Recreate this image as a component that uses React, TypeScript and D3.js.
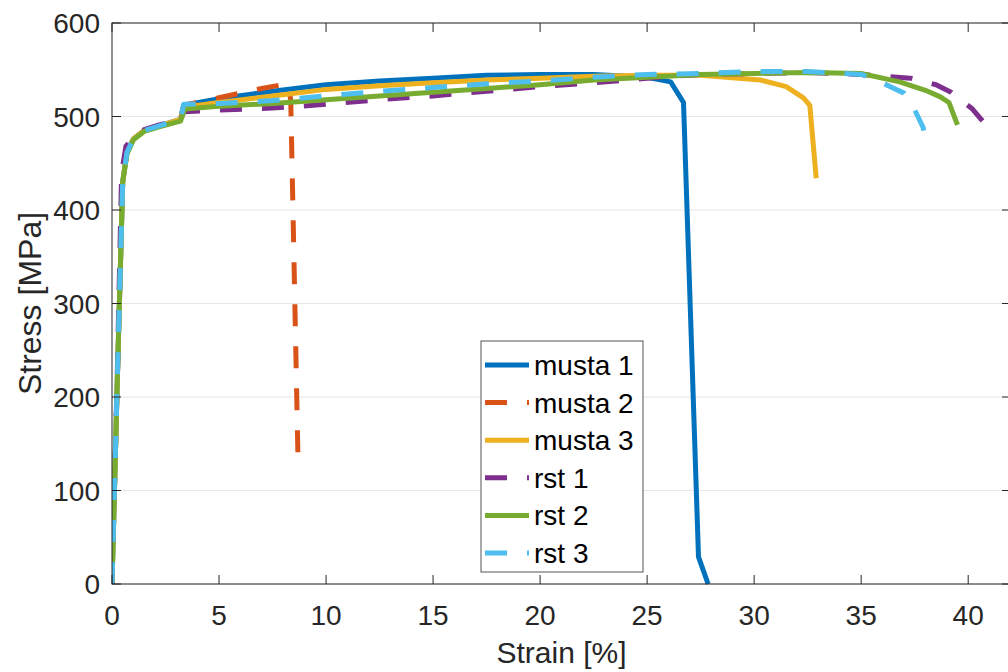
import React from 'react';
import * as d3 from 'd3';

// strain [%] / stress [MPa]
const musta1Strain = [0, 0.25, 0.5, 0.7, 1.0, 1.5, 2.2, 3.2, 3.35, 5, 7.5, 10, 12.5, 15, 17.5, 20, 22.5, 25, 26.1, 26.7, 27.4, 27.85];
const musta1Stress = [0, 220, 430, 462, 476, 485, 490, 497, 512, 519, 527, 534, 538, 541, 544, 545, 545, 542, 537, 515, 29, 0];

const musta2Strain = [0, 0.25, 0.5, 0.7, 1.0, 1.5, 2.2, 3.2, 3.35, 5, 7, 8.2, 8.35, 8.7];
const musta2Stress = [0, 220, 430, 462, 476, 485, 490, 497, 512, 520, 530, 535, 518, 122];

const musta3Strain = [0, 0.25, 0.5, 0.7, 1.0, 1.5, 2.2, 3.2, 3.35, 5, 7.5, 10, 12.5, 15, 17.5, 20, 22.5, 25, 27.5, 30.3, 31.5, 32.3, 32.6, 32.9];
const musta3Stress = [0, 220, 430, 462, 476, 485, 490, 497, 510, 515, 522, 529, 533, 536, 539, 541, 543, 544, 544, 539, 532, 520, 512, 434];

const rst1Strain = [0, 0.25, 0.45, 0.65, 1.0, 1.5, 2.2, 3.2, 3.35, 5, 7.5, 10, 12.5, 15, 17.5, 20, 22.5, 25, 27.5, 30, 32.5, 35, 37.3, 38.5, 39.2, 40.2, 40.9];
const rst1Stress = [0, 230, 440, 468, 478, 486, 491, 496, 505, 507, 509, 513, 518, 522, 527, 532, 536, 541, 545, 546, 547, 545, 541, 534, 526, 508, 489];

const rst2Strain = [0, 0.25, 0.5, 0.7, 1.0, 1.5, 2.2, 3.2, 3.4, 5, 7.5, 10, 12.5, 15, 17.5, 20, 22.5, 25, 27.5, 30, 32.5, 35, 36.8, 38, 38.7, 39.1, 39.5];
const rst2Stress = [0, 220, 430, 460, 475, 484, 489, 495, 508, 511, 514, 518, 522, 526, 530, 534, 539, 542, 545, 546, 547, 546, 537, 528, 521, 515, 491];

const rst3Strain = [0, 0.25, 0.5, 0.7, 1.0, 1.5, 2.2, 3.2, 3.35, 5, 7.5, 10, 12.5, 15, 17.5, 20, 22.5, 25, 27.5, 30, 32.5, 35, 35.6, 37, 37.4, 37.9, 38];
const rst3Stress = [0, 220, 430, 462, 476, 485, 490, 497, 513, 514, 517, 522, 527, 531, 535, 538, 542, 545, 546, 548, 548, 545, 540, 525, 512, 488, 466];

const seriesNames = ['musta 1', 'musta 2', 'musta 3', 'rst 1', 'rst 2', 'rst 3'];
const seriesColors = ['#0072BD', '#D95319', '#EDB120', '#7E2F8E', '#77AC30', '#4DBEEE'];
const seriesDashed = [false, true, false, true, false, true];

const xTicks = [0, 5, 10, 15, 20, 25, 30, 35, 40];
const yTicks = [0, 100, 200, 300, 400, 500, 600];

const strains = [musta1Strain, musta2Strain, musta3Strain, rst1Strain, rst2Strain, rst3Strain];
const stresses = [musta1Stress, musta2Stress, musta3Stress, rst1Stress, rst2Stress, rst3Stress];

const W = 1008;
const H = 672;
const left = 112, right = 1011, top = 23, bottom = 584;
const font = '"Liberation Sans", Arial, Helvetica, sans-serif';
const axisColor = '#262626';

export default function App() {
  const x = d3.scaleLinear().domain([0, 42]).range([left, right]);
  const y = d3.scaleLinear().domain([0, 600]).range([bottom, top]);

  const line = d3.line<[number, number]>()
    .x(d => x(d[0]))
    .y(d => y(d[1]));

  const series = seriesNames.map((name, i) => ({
    name,
    color: seriesColors[i],
    dashed: seriesDashed[i],
    points: strains[i].map((s, j) => [s, stresses[i][j]] as [number, number]),
  }));

  const legX = 481, legY = 341, legW = 162, legH = 231;
  const rowH = 37.6;

  return (
    <svg width={W} height={H} style={{ position: 'absolute', left: 0, top: 0, background: '#fff' }}>
      <defs>
        <clipPath id="plot">
          <rect x={left} y={top - 3} width={right - left} height={bottom - top + 6} />
        </clipPath>
      </defs>

      {/* grid */}
      {yTicks.map(t => (
        <line key={'g' + t} x1={left} x2={right} y1={y(t)} y2={y(t)} stroke="#e6e6e6" strokeWidth={1} />
      ))}

      {/* curves */}
      <g clipPath="url(#plot)">
        {series.map(s => (
          <path key={s.name} d={line(s.points) || ''} fill="none" stroke={s.color} strokeWidth={5}
            strokeDasharray={s.dashed ? '22,20' : undefined} strokeLinejoin="round" />
        ))}
      </g>

      {/* box and ticks */}
      <rect x={left} y={top} width={right - left} height={bottom - top} fill="none" stroke={axisColor} strokeWidth={1} />
      {xTicks.map(t => (
        <g key={'x' + t}>
          <line x1={x(t)} x2={x(t)} y1={bottom} y2={bottom - 9} stroke={axisColor} />
          <line x1={x(t)} x2={x(t)} y1={top} y2={top + 9} stroke={axisColor} />
          <text x={x(t)} y={625} textAnchor="middle" fontFamily={font} fontSize={28} fill={axisColor}>{t}</text>
        </g>
      ))}
      {yTicks.map(t => (
        <g key={'y' + t}>
          <line x1={left} x2={left + 9} y1={y(t)} y2={y(t)} stroke={axisColor} />
          <line x1={right} x2={right - 9} y1={y(t)} y2={y(t)} stroke={axisColor} />
          <text x={100} y={y(t)} dy="0.36em" textAnchor="end" fontFamily={font} fontSize={28} fill={axisColor}>{t}</text>
        </g>
      ))}

      {/* axis labels */}
      <text x={(left + right) / 2} y={663} textAnchor="middle" fontFamily={font} fontSize={30} fill={axisColor}>Strain [%]</text>
      <text transform={`translate(41,${(top + bottom) / 2}) rotate(-90)`} textAnchor="middle" fontFamily={font} fontSize={32} fill={axisColor}>Stress [MPa]</text>

      {/* legend */}
      <rect x={legX} y={legY} width={legW} height={legH} fill="#fff" stroke="#555" strokeWidth={1} />
      {series.map((s, i) => {
        const cy = legY + 24 + i * rowH;
        return (
          <g key={'l' + s.name}>
            <line x1={485} x2={529} y1={cy} y2={cy} stroke={s.color} strokeWidth={5}
              strokeDasharray={s.dashed ? '22,20' : undefined} />
            <text x={534} y={cy} dy="0.36em" fontFamily={font} fontSize={28} fill="#000">{s.name}</text>
          </g>
        );
      })}
    </svg>
  );
}
